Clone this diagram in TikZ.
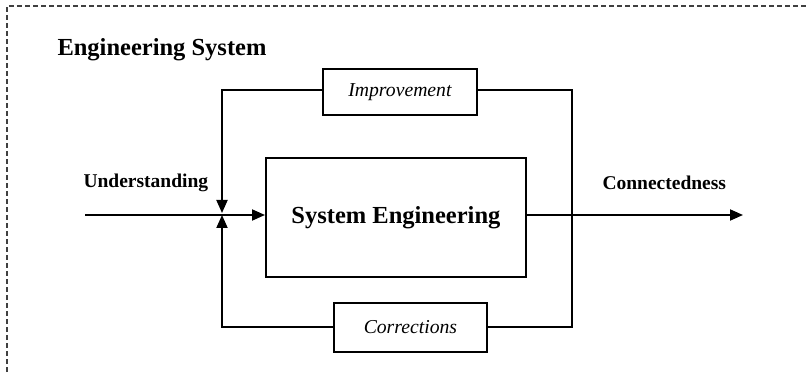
\documentclass[tikz,border=0pt]{standalone}
\usepackage{fontspec}
\setmainfont{Liberation Serif}
\usetikzlibrary{arrows.meta}
\begin{document}
\begin{tikzpicture}[x=1pt,y=-1pt,
  box/.style={draw,line width=1.9pt,inner sep=0pt,anchor=north west},
  wire/.style={line width=1.9pt},
  arr/.style={wire,-{Triangle[length=13pt,width=11pt]}},
  lbl/.style={font=\fontsize{19.5}{22}\selectfont\bfseries},
  ital/.style={font=\fontsize{19.7}{22}\selectfont\itshape}]
\useasboundingbox (0,0) rectangle (809,374);
\draw[line width=1.1pt,black!75,dash pattern=on 5pt off 3pt] (7,372) -- (7,6) -- (809,6);
\node[font=\fontsize{24.5}{28}\selectfont\bfseries,anchor=west] (title) at (54,50) {Engineering System};
\node[box,minimum width=260pt,minimum height=119pt] (main) at (265,157) {};
\node[font=\fontsize{24.5}{28}\selectfont\bfseries] (maintext) at (main.center) {System Engineering};
\node[box,minimum width=154pt,minimum height=46pt,ital] (imp) at (322,68) {Improvement};
\node[box,minimum width=153pt,minimum height=49pt,ital] (cor) at (333,302) {Corrections};
\coordinate (in) at (85,215);
\coordinate (out) at (743,215);
\coordinate (jt) at (222,213);
\coordinate (jb) at (222,215);
\coordinate (tl) at (222,90);
\coordinate (tr) at (572,90);
\coordinate (bl) at (222,327);
\coordinate (br) at (572,327);
\draw[arr] (in) -- (in -| main.west);
\draw[arr] (main.east |- out) -- (out);
\draw[arr] (imp.west |- tl) -- (tl) -- (jt);
\draw[arr] (cor.west |- bl) -- (bl) -- (jb);
\draw[wire] (imp.east |- tr) -- (tr) -- (br) -- (cor.east |- br);
\node[lbl,anchor=west] (und) at (80,183) {Understanding};
\node[lbl,anchor=west] (con) at (599,183) {Connectedness};
\end{tikzpicture}
\end{document}
